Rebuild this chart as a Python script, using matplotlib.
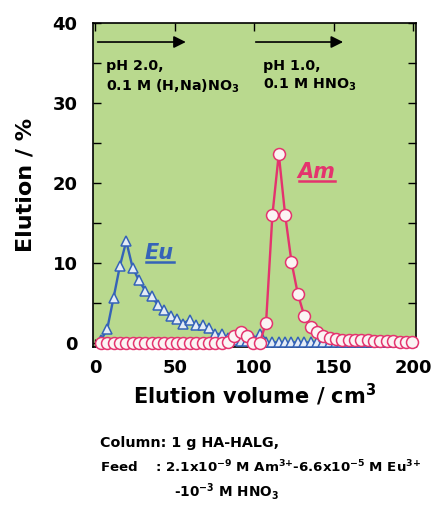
import matplotlib
matplotlib.use("Agg")
import matplotlib.pyplot as plt
from matplotlib.lines import Line2D

plt.rcParams['font.family'] = ['DejaVu Sans']
plt.rcParams['font.weight'] = 'bold'
plt.rcParams['mathtext.fontset'] = 'custom'
plt.rcParams['mathtext.rm'] = 'DejaVu Sans:bold'
plt.rcParams['mathtext.bf'] = 'DejaVu Sans:bold'
plt.rcParams['mathtext.it'] = 'DejaVu Sans:bold:italic'

# fraction volumes (cm3), 4 cm3 per fraction
volume = [3.5, 7.5, 11.5, 15.5, 19.5, 23.5, 27.5, 31.5, 35.5, 39.5,
          43.5, 47.5, 51.5, 55.5, 59.5, 63.5, 67.5, 71.5, 75.5, 79.5,
          83.5, 87.5, 91.5, 95.5, 99.5, 103.5, 107.5, 111.5, 115.5, 119.5,
          123.5, 127.5, 131.5, 135.5, 139.5, 143.5, 147.5, 151.5, 155.5, 159.5,
          163.5, 167.5, 171.5, 175.5, 179.5, 183.5, 187.5, 191.5, 195.5, 199.5]

# elution (%) per fraction
eu = [0.3, 1.7, 5.6, 9.6, 12.7, 9.4, 7.8, 6.5, 5.8, 4.7,
      4.1, 3.3, 3.0, 2.4, 2.9, 2.2, 2.2, 1.9, 1.1, 1.1,
      0.6, 0.3, 0.2, 0.2, 0.5, 1.1, 0.1, 0.05, 0.05, 0.05,
      0.05, 0.05, 0.05, 0.05, 0.05, 0.05, 0.05, 0.05, 0.05, 0.05,
      0.05, 0.05, 0.05, 0.05, 0.05, 0.05, 0.05, 0.05, 0.05, 0.05]
am = [0.0, 0.0, 0.0, 0.0, 0.0, 0.0, 0.0, 0.0, 0.0, 0.0,
      0.0, 0.0, 0.0, 0.0, 0.0, 0.0, 0.0, 0.0, 0.0, 0.0,
      0.1, 0.9, 1.3, 0.9, 0.0, 0.0, 2.5, 16.0, 23.6, 16.0,
      10.1, 6.1, 3.4, 2.0, 1.4, 0.9, 0.6, 0.5, 0.4, 0.4,
      0.3, 0.3, 0.3, 0.2, 0.2, 0.2, 0.2, 0.1, 0.1, 0.1]

xticks = [0, 50, 100, 150, 200]
yticks = [0, 10, 20, 30, 40]

eu_col = '#3563b8'
am_col = '#e4336e'

fig = plt.figure(figsize=(4.34, 5.07), dpi=100)
ax = fig.add_axes([0.214, 0.316, 0.745, 0.639])
ax.set_facecolor('#b9d98e')

ax.plot(volume, eu, '-^', color=eu_col, lw=1.7, ms=7.6, mfc='#e4ecf6',
        mec=eu_col, mew=1.1, clip_on=False, zorder=3)
ax.plot(volume, am, '-o', color=am_col, lw=1.7, ms=8.6, mfc='#fbf4f4',
        mec=am_col, mew=1.1, clip_on=False, zorder=4)

ax.set_xlim(-1.5, 202)
ax.set_ylim(-0.5, 40)
ax.set_xticks(xticks)
ax.set_yticks(yticks)
ax.set_yticks([5, 15, 25, 35], minor=True)
ax.tick_params(direction='in', which='both', top=True, right=True,
               labelsize=13, length=6, width=1.0)
ax.tick_params(axis='y', pad=11)
ax.tick_params(axis='x', pad=9)
for lab in ax.get_xticklabels() + ax.get_yticklabels():
    lab.set_fontweight('bold')
for s in ax.spines.values():
    s.set_linewidth(1.2)

ax.set_xlabel('Elution volume / cm$^{3}$', fontsize=15, fontweight='bold',
              labelpad=3)
ax.set_ylabel('Elution / %', fontsize=16, fontweight='bold', labelpad=12)

# eluent steps
arrow = dict(arrowstyle='-|>', lw=1.2, color='k', mutation_scale=18,
             shrinkA=0, shrinkB=0)
ax.annotate('', xy=(57, 37.6), xytext=(1.5, 37.6), arrowprops=arrow)
ax.annotate('', xy=(156, 37.6), xytext=(101, 37.6), arrowprops=arrow)
ax.text(6.5, 35.5, 'pH 2.0,\n0.1 M (H,Na)NO$_3$', fontsize=10.3,
        fontweight='bold', va='top', linespacing=1.35)
ax.text(105.5, 35.5, 'pH 1.0,\n0.1 M HNO$_3$', fontsize=10.3,
        fontweight='bold', va='top', linespacing=1.35)

t_eu = ax.text(31, 11.2, 'Eu', color=eu_col, fontsize=15, fontweight='bold',
               fontstyle='italic', va='center')
t_am = ax.text(127, 21.4, 'Am', color=am_col, fontsize=15, fontweight='bold',
               fontstyle='italic', va='center')

fig.text(0.23, 0.127, 'Column: 1 g HA-HALG,', fontsize=10.3,
         fontweight='bold', va='center')
fig.text(0.23, 0.079,
         'Feed    : 2.1x10$^{-9}$ M Am$^{3{+}}$-6.6x10$^{-5}$ M Eu$^{3{+}}$',
         fontsize=9.6, fontweight='bold', va='center')
fig.text(0.40, 0.030, '-10$^{-3}$ M HNO$_3$', fontsize=9.8,
         fontweight='bold', va='center')

# underline the element labels
fig.canvas.draw()
r = fig.canvas.get_renderer()
for t, c in [(t_eu, eu_col), (t_am, am_col)]:
    bb = t.get_window_extent(r).transformed(fig.transFigure.inverted())
    fig.add_artist(Line2D([bb.x0 + 0.004, bb.x1], [bb.y0 + 0.002] * 2,
                          color=c, lw=1.8))

fig.savefig('out.png', dpi=100)
